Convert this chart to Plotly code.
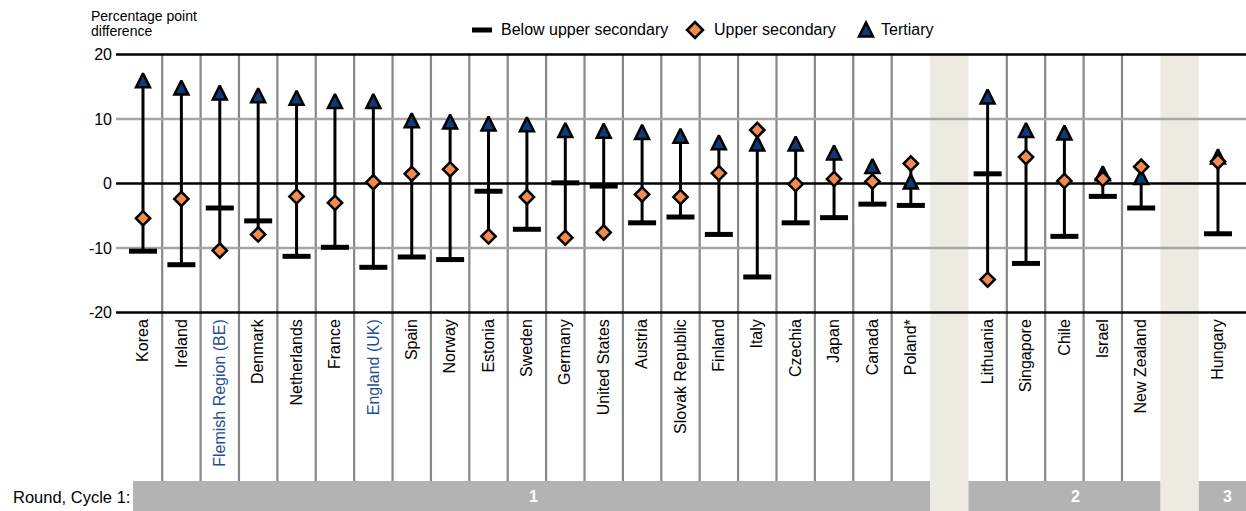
import plotly.graph_objects as go

# ---------------- data ----------------
countries = ["Korea", "Ireland", "Flemish Region (BE)", "Denmark", "Netherlands", "France",
             "England (UK)", "Spain", "Norway", "Estonia", "Sweden", "Germany", "United States",
             "Austria", "Slovak Republic", "Finland", "Italy", "Czechia", "Japan", "Canada",
             "Poland*", "Lithuania", "Singapore", "Chile", "Israel", "New Zealand", "Hungary"]
rounds = [1] * 21 + [2] * 5 + [3]
below_upper_secondary = [-10.5, -12.6, -3.8, -5.8, -11.3, -9.9, -13.0, -11.4, -11.8, -1.2, -7.1,
                         0.1, -0.4, -6.1, -5.2, -7.9, -14.5, -6.1, -5.3, -3.2, -3.4,
                         1.5, -12.4, -8.2, -2.0, -3.8, -7.8]
upper_secondary = [-5.4, -2.4, -10.4, -7.9, -2.0, -3.0, 0.2, 1.5, 2.2, -8.2, -2.1,
                   -8.4, -7.6, -1.7, -2.1, 1.6, 8.3, -0.1, 0.7, 0.3, 3.1,
                   -14.9, 4.1, 0.4, 0.7, 2.6, 3.4]
tertiary = [16.0, 14.9, 14.1, 13.7, 13.3, 12.8, 12.8, 9.8, 9.6, 9.3, 9.2,
            8.3, 8.2, 8.0, 7.4, 6.4, 6.2, 6.2, 4.8, 2.7, 0.3,
            13.5, 8.3, 7.9, 1.6, 1.0, 4.2]
highlighted = ["Flemish Region (BE)", "England (UK)"]
y_ticks = [-20, -10, 0, 10, 20]
round_names = ["1", "2", "3"]
legend_names = ["Below upper secondary", "Upper secondary", "Tertiary"]

# ---------------- layout constants ----------------
W, H = 1246, 511
L, R, T, B = 116, 0, 52, 196
PT, PB = T, H - B                      # plot area top / bottom in px
YMIN, YMAX = -20.4, 20.4
PXU = (PB - PT) / (YMAX - YMIN)        # px per y unit
FONT = "Liberation Sans, Arial, sans-serif"
NAVY = "#0d3b78"
ORANGE = "#f38b4f"
BEIGE = "#edebe1"
BAND = "#b3b3b3"
HL_COLOR = "#1f4e96"

# category slots (one empty slot between rounds)
pos = []
slot = 0
prev = rounds[0]
for r in rounds:
    if r != prev:
        slot += 1
        prev = r
    pos.append(slot)
    slot += 1
XMIN, XMAX = -0.703, 28.73


def xp(x):          # data x -> paper
    return (x - XMIN) / (XMAX - XMIN)


def xpp(px):        # pixel x -> paper
    return (px - L) / (W - L - R)


def ypp(py):        # pixel y -> paper
    return (PB - py) / (PB - PT)


def ypv(v):         # data y -> paper
    return (v - YMIN) / (YMAX - YMIN)


shapes = []
# beige gap columns
gaps = [p for p in range(pos[-1] + 1) if p not in pos]
for g in gaps:
    shapes.append(dict(type="rect", xref="paper", yref="paper", x0=xp(g - 0.5), x1=xp(g + 0.5),
                       y0=ypp(H + 5), y1=ypv(20), fillcolor=BEIGE, line=dict(width=0), layer="below"))
# vertical separators between neighbouring countries of the same round
for i in range(len(pos) - 1):
    if pos[i + 1] == pos[i] + 1:
        xx = xp(pos[i] + 0.5)
        shapes.append(dict(type="line", xref="paper", yref="paper", x0=xx, x1=xx,
                           y0=ypp(481), y1=ypv(20), line=dict(color="#878787", width=2.2),
                           layer="below"))
# horizontal lines
for v in y_ticks:
    col = "#000000" if v in (-20, 0, 20) else "#a6a6a6"
    shapes.append(dict(type="line", xref="paper", yref="paper", x0=0, x1=1,
                       y0=ypv(v), y1=ypv(v), line=dict(color=col, width=2.5), layer="below"))
# round bands at the bottom
n_rounds = len(set(rounds))
for k, rn in enumerate(sorted(set(rounds))):
    ps = [p for p, r in zip(pos, rounds) if r == rn]
    x0 = xp(min(ps) - 0.5)
    x1 = xp(max(ps) + 0.5)
    if k == 0:
        x0 = xpp(133)
    if k == n_rounds - 1:
        x1 = 1.0
    shapes.append(dict(type="rect", xref="paper", yref="paper", x0=x0, x1=x1,
                       y0=ypp(H + 5), y1=ypp(481), fillcolor=BAND, line=dict(width=0), layer="below"))

# legend glyphs (pixel-sized shapes anchored at legend positions)
leg_y = 30
leg_x = [482, 695, 866]
leg_text_x = [499, 712, 879]
shapes.append(dict(type="rect", xref="paper", yref="paper", xsizemode="pixel", ysizemode="pixel",
                   xanchor=xpp(leg_x[0]), yanchor=ypp(leg_y), x0=-10, x1=10, y0=-2.5, y1=2.5,
                   fillcolor="black", line=dict(width=0)))
shapes.append(dict(type="path", xref="paper", yref="paper", xsizemode="pixel", ysizemode="pixel",
                   xanchor=xpp(leg_x[1]), yanchor=ypp(leg_y),
                   path="M 8,0 L 0,8 L -8,0 L 0,-8 Z",
                   fillcolor=ORANGE, line=dict(color="black", width=2.5)))
shapes.append(dict(type="path", xref="paper", yref="paper", xsizemode="pixel", ysizemode="pixel",
                   xanchor=xpp(leg_x[2]), yanchor=ypp(leg_y),
                   path="M 0,7.5 L -7,-6.5 L 7,-6.5 Z",
                   fillcolor=NAVY, line=dict(color="black", width=2.5)))

fig = go.Figure()

# stems
sx, sy = [], []
for p, a, b, c in zip(pos, below_upper_secondary, upper_secondary, tertiary):
    sx += [p, p, None]
    sy += [min(a, b, c), max(a, b, c), None]
fig.add_trace(go.Scatter(x=sx, y=sy, mode="lines", line=dict(color="black", width=3),
                         hoverinfo="skip", showlegend=False))
# below upper secondary
fig.add_trace(go.Scatter(x=pos, y=below_upper_secondary, mode="markers", name=legend_names[0],
                         marker=dict(symbol="line-ew", size=20,
                                     line=dict(color="black", width=5)),
                         showlegend=False))
# tertiary (arrow symbol is anchored at its apex -> shifted overlay scale centres it on the value)
TRI = 14
d = (TRI / 2) / PXU
fig.add_trace(go.Scatter(x=pos, y=tertiary, mode="markers", name=legend_names[2], yaxis="y3",
                         marker=dict(symbol="arrow-up", size=TRI, color=NAVY,
                                     line=dict(color="black", width=2.5)),
                         showlegend=False))
# upper secondary
fig.add_trace(go.Scatter(x=pos, y=upper_secondary, mode="markers", name=legend_names[1], yaxis="y4",
                         marker=dict(symbol="diamond", size=11, color=ORANGE,
                                     line=dict(color="black", width=2.5)),
                         showlegend=False))

annotations = []
for name, tx in zip(legend_names, leg_text_x):
    annotations.append(dict(xref="paper", yref="paper", x=xpp(tx), y=ypp(leg_y), text=name,
                            showarrow=False, xanchor="left", yanchor="middle",
                            font=dict(family=FONT, size=16, color="black")))
annotations.append(dict(xref="paper", yref="paper", x=xpp(89), y=ypp(16), text="Percentage point",
                        showarrow=False, xanchor="left", yanchor="middle",
                        font=dict(family=FONT, size=14, color="black")))
annotations.append(dict(xref="paper", yref="paper", x=xpp(89), y=ypp(31), text="difference",
                        showarrow=False, xanchor="left", yanchor="middle",
                        font=dict(family=FONT, size=14, color="black")))
annotations.append(dict(xref="paper", yref="paper", x=xpp(132), y=ypp(497), text="Round, Cycle 1:",
                        showarrow=False, xanchor="right", yanchor="middle",
                        font=dict(family=FONT, size=16.5, color="black")))
band_label_px = [533, 1075, 1227]
for rn, bx in zip(round_names, band_label_px):
    annotations.append(dict(xref="paper", yref="paper", x=xpp(bx), y=ypp(496), text="<b>" + rn + "</b>",
                            showarrow=False, xanchor="center", yanchor="middle",
                            font=dict(family=FONT, size=16, color="white")))

ticktext = [("<span style='color:%s'>%s</span>" % (HL_COLOR, c)) if c in highlighted else c
            for c in countries]

fig.update_layout(
    width=W, height=H,
    margin=dict(l=L, r=R, t=T, b=B, pad=0),
    paper_bgcolor="white", plot_bgcolor="rgba(0,0,0,0)",
    showlegend=False,
    font=dict(family=FONT, color="black"),
    xaxis=dict(range=[XMIN, XMAX], tickmode="array", tickvals=pos, ticktext=ticktext,
               tickangle=-90, tickfont=dict(family=FONT, size=16, color="black"),
               showgrid=False, zeroline=False, showline=False, ticks=""),
    yaxis=dict(range=[YMIN, YMAX], tickmode="array", tickvals=y_ticks,
               ticktext=[str(v) for v in y_ticks], tickfont=dict(family=FONT, size=16, color="black"),
               showgrid=False, zeroline=False, showline=False, ticks="", ticklabelstandoff=3),
    yaxis3=dict(range=[YMIN - d, YMAX - d], overlaying="y", visible=False),
    yaxis4=dict(range=[YMIN, YMAX], overlaying="y", visible=False),
    shapes=shapes,
    annotations=annotations,
)

fig.write_html("out.html", config={"displayModeBar": False},
               post_script="document.body.style.margin='0px';")
